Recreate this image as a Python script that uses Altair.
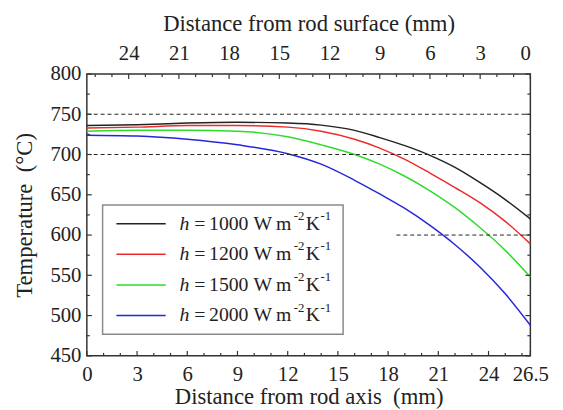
import altair as alt
import pandas as pd

# ---- data ----
h_values = ["1000", "1200", "1500", "2000"]
colors = ["#222222", "#ee2a2a", "#2ddc2d", "#2626dd"]

x_mm = [0, 3, 6, 9, 12, 14, 16, 17.5, 19, 20.5, 22, 23.5, 25, 26.5]
t_1000 = [736, 737, 739, 740, 739, 736.5, 730, 721, 711, 699, 684, 665, 644, 620]
t_1200 = [733, 734, 736, 736, 734, 729, 719, 708, 694, 677, 659, 640, 617, 589]
t_1500 = [729, 730, 730, 729, 722, 712, 700, 688, 673, 655, 634, 609, 581, 548]
t_2000 = [724, 723, 719, 712, 701, 688, 668, 651, 633, 612, 588, 560, 527, 488]

ref_y = [750, 700, 600]
ref_x0 = [0, 0, 18.5]
ref_x1 = [26.5, 26.5, 26.5]

x_major = [0, 3, 6, 9, 12, 15, 18, 21, 24, 26.5]
x_minor = [1, 2, 4, 5, 7, 8, 10, 11, 13, 14, 16, 17, 19, 20, 22, 23, 25, 26]
surf_major = [24, 21, 18, 15, 12, 9, 6, 3, 0]
surf_minor = [1, 2, 4, 5, 7, 8, 10, 11, 13, 14, 16, 17, 19, 20, 22, 23, 25, 26]
y_major = [450, 500, 550, 600, 650, 700, 750, 800]
y_minor = [475, 525, 575, 625, 675, 725, 775]

W, H = 450, 286
X0, X1 = 0, 26.5
FONT = "Liberation Serif"
NB = "\u00a0"

rows = []
for hv, ts in zip(h_values, [t_1000, t_1200, t_1500, t_2000]):
    for x, t in zip(x_mm, ts):
        rows.append({"x": x, "T": t, "series": hv})
curves_df = pd.DataFrame(rows)
ref_df = pd.DataFrame({"y": ref_y, "x0": ref_x0, "x1": ref_x1})

xs = alt.Scale(domain=[X0, X1], nice=False, zero=False)
ys = alt.Scale(domain=[450, 800], nice=False, zero=False)

top_positions = [X1 - s for s in surf_major]
top_minor_pos = [X1 - s for s in surf_minor]

curves = alt.Chart(curves_df).mark_line(strokeWidth=1.5, interpolate="monotone").encode(
    x=alt.X("x:Q", scale=xs, axis=alt.Axis(
        orient="bottom", values=x_major, labelExpr="format(datum.value, '.1~f')",
        title=f"Distance from rod axis{NB}{NB}(mm)",
        ticks=False, tickSize=0, domain=False, grid=False, labelPadding=8,
        titlePadding=1, labelFlush=False)),
    y=alt.Y("T:Q", scale=ys, axis=alt.Axis(
        orient="left", values=y_major, title=f"Temperature{NB}{NB}(°C)",
        ticks=False, tickSize=0, domain=False, grid=False, labelPadding=6,
        titlePadding=14)),
    color=alt.Color("series:N", scale=alt.Scale(domain=h_values, range=colors),
                    legend=None),
)

ref = alt.Chart(ref_df).mark_rule(color="#222", strokeWidth=1, strokeDash=[4, 3]).encode(
    x=alt.X("x0:Q", scale=xs, axis=alt.Axis(
        orient="top", values=top_positions,
        labelExpr="format(26.5 - datum.value, 'd')",
        title="Distance from rod surface (mm)", ticks=False, tickSize=0,
        domain=False, grid=False, labelPadding=11, titlePadding=7)),
    x2="x1:Q",
    y=alt.Y("y:Q", scale=ys, axis=alt.Axis(orient="right", values=y_major,
                                           labels=False, ticks=False, domain=False,
                                           grid=False, title=None)),
)

L_major, L_minor = 5, 3
tick_color = "#333"

def xticks(vals, length, bottom=True):
    df = pd.DataFrame({"v": vals})
    if bottom:
        enc = dict(y=alt.value(H), y2=alt.value(H - length))
    else:
        enc = dict(y=alt.value(0), y2=alt.value(length))
    return alt.Chart(df).mark_rule(color=tick_color, strokeWidth=1.2).encode(
        x=alt.X("v:Q", scale=xs, axis=None), **enc)

def yticks(vals, length, left=True):
    df = pd.DataFrame({"v": vals})
    if left:
        enc = dict(x=alt.value(0), x2=alt.value(length))
    else:
        enc = dict(x=alt.value(W), x2=alt.value(W - length))
    return alt.Chart(df).mark_rule(color=tick_color, strokeWidth=1.2).encode(
        y=alt.Y("v:Q", scale=ys, axis=None), **enc)

tick_layers = [
    xticks(x_major, L_major, True), xticks(x_minor, L_minor, True),
    xticks(top_positions, L_major, False), xticks(top_minor_pos, L_minor, False),
    yticks(y_major, L_major, True), yticks(y_minor, L_minor, True),
    yticks(y_major, L_major, False), yticks(y_minor, L_minor, False),
]

# ---- custom legend (box, line samples, rich-text labels) ----
one = pd.DataFrame({"d": [0]})
LBOX = dict(x0=16, x1=260, y0=133, y1=264)
ROW0, ROWSTEP = 152, 31
SYM_X0, SYM_X1 = 30, 80
FS, FS_SUP = 20, 13
SUP_RAISE = 8

legend_layers = [
    alt.Chart(one).mark_rect(fill="white", stroke="#8a8a8a", strokeWidth=1.5).encode(
        x=alt.value(LBOX["x0"]), x2=alt.value(LBOX["x1"]),
        y=alt.value(LBOX["y0"]), y2=alt.value(LBOX["y1"]))
]
for i, (hv, col) in enumerate(zip(h_values, colors)):
    yc = ROW0 + ROWSTEP * i
    legend_layers.append(
        alt.Chart(one).mark_rule(color=col, strokeWidth=1.5).encode(
            x=alt.value(SYM_X0), x2=alt.value(SYM_X1), y=alt.value(yc)))
    # (text, left x, raised?, italic?)
    pieces = [
        ("h", 94, False, True),
        ("=", 109, False, False),
        (hv, 124, False, False),
        ("W", 169, False, False),
        ("m", 192, False, False),
        ("-2", 210, True, False),
        ("K", 222, False, False),
        ("-1", 237, True, False),
    ]
    for txt, px, sup, ital in pieces:
        legend_layers.append(
            alt.Chart(one).mark_text(text=txt, font=FONT,
                                     fontSize=FS_SUP if sup else FS,
                                     fontStyle="italic" if ital else "normal",
                                     align="left", baseline="middle", color="#222").encode(
                x=alt.value(px), y=alt.value(yc - SUP_RAISE if sup else yc)))

chart = alt.layer(curves, ref, *tick_layers, *legend_layers).resolve_axis(
    x="independent", y="independent"
).properties(
    width=W, height=H,
    autosize=alt.AutoSizeParams(type="none"),
    padding={"left": 80, "top": 64, "right": 25, "bottom": 52},
).configure(
    font=FONT,
).configure_view(
    stroke="#333", strokeWidth=1.5,
).configure_axis(
    labelFont=FONT, labelFontSize=21, labelColor="#222",
    titleFont=FONT, titleFontSize=23, titleColor="#222",
    titleFontWeight="normal",
)

chart.save("out.html", embed_options={"renderer": "svg", "actions": False})
